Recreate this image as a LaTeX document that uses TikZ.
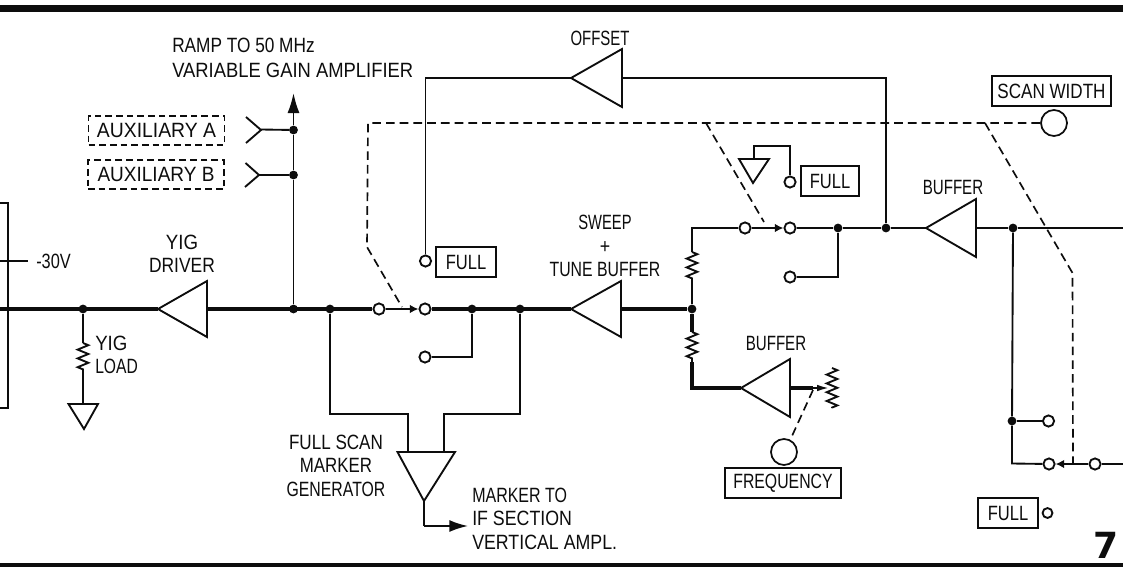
\documentclass[tikz,border=0pt]{standalone}
\usepackage{graphicx}
\usepackage{fontspec}
\setmainfont[FakeStretch=0.86]{Liberation Sans}
\newfontfamily\sevenfont{DejaVu Sans}
\usetikzlibrary{arrows.meta,decorations.pathmorphing}
\newcommand{\hs}[2]{\scalebox{#1}[1]{#2}}
\newcommand{\amplif}[5]{% name, tip x, base x, y, half height
  \coordinate (#1-tip) at (#2,#4);
  \coordinate (#1-base) at (#3,#4);
  \draw[wire,fill=white,line join=miter] (#2,#4) -- (#3,#4-#5) -- (#3,#4+#5) -- cycle;
}
\tikzset{
  wire/.style={line width=1.4pt,draw=ink},
  heavy/.style={line width=3.3pt,draw=ink},
  dashline/.style={line width=1.25pt,draw=ink,dash pattern=on 6.5pt off 3.8pt},
  resist/.style={wire,decorate,decoration={zigzag,segment length=6.6pt,amplitude=4pt}},
  term/.style={circle,draw=ink,line width=1.4pt,fill=white,inner sep=0pt,minimum size=8.4pt},
  knob/.style={circle,draw=ink,line width=1.3pt,fill=white,inner sep=0pt,minimum size=19.5pt},
  junction/.style={circle,fill=ink,inner sep=0pt,minimum size=6.6pt},
  label/.style={inner sep=0pt,text=ink,font=\fontsize{15.5}{17.6}\selectfont},
  panel/.style={draw=ink,line width=1.4pt,inner sep=0pt,text=ink,font=\fontsize{15.5}{17}\selectfont,anchor=center},
  auxbox/.style={panel,dash pattern=on 5pt off 3pt,minimum width=102pt,minimum height=21.5pt},
  gnd/.style={wire,line join=miter},
  bigtip/.style={-{Latex[length=15pt,width=9pt]}},
  midtip/.style={-{Latex[length=14pt,width=9pt]}},
  smalltip/.style={-{Latex[length=6.5pt,width=6.5pt]}}
}
\definecolor{ink}{gray}{0.05}
\begin{document}
\begin{tikzpicture}[x=0.75pt,y=-0.75pt]
\useasboundingbox (0,0) rectangle (1123,567);
\fill[white] (0,0) rectangle (1123,567);
% frame bars
\fill[ink] (0,5) rectangle (1123,12.5);
\fill[ink] (0,563) rectangle (1123,567);

% left block and -30V
\draw[wire] (0,203) -- (8,203) -- (8,408) -- (0,408);
\coordinate (minus) at (28,261);
\coordinate (minusL) at (0,261);
\draw[wire] (minusL) -- (minus);
\node[label,anchor=west] (v30) at (36,261) {\hs{.92}{-30V}};

% amplifiers
\amplif{yigdrv}{158}{207}{309}{28}
\amplif{sweep}{571}{621}{309}{28}
\amplif{offs}{571}{622}{78}{29}
\amplif{bufa}{926}{976}{228}{29}
\amplif{bufb}{741}{790}{388}{29}

% junctions
\node[junction] (jload) at (83,309) {};
\node[junction] (jramp) at (293.5,309) {};
\node[junction] (jauxa) at (293.5,130) {};
\node[junction] (jauxb) at (293.5,175) {};
\node[junction] (jm1) at (330,309) {};
\node[junction] (jm2) at (472,309) {};
\node[junction] (jm3) at (520,309) {};
\node[junction] (jsum) at (692,309) {};
\node[junction] (jt1) at (838,228) {};
\node[junction] (jt2) at (886,228) {};
\node[junction] (jout) at (1013,228) {};
\node[junction] (jlow) at (1012,421) {};

% terminals
\node[term] (s1a) at (379,309) {};
\node[term] (s1b) at (425,309) {};
\node[term] (s1c) at (425,357) {};
\node[term] (s2a) at (745,228) {};
\node[term] (s2b) at (790,228) {};
\node[term] (s2c) at (790,277) {};
\node[term] (s3c) at (1048.5,421) {};
\node[term] (s3b) at (1049,464) {};
\node[term] (s3a) at (1095,464) {};
\node[term] (foff) at (425.5,261) {};
\node[term] (fgnd) at (790,182) {};
\node[term,minimum size=7.4pt] (frt) at (1047.5,513) {};
\node[knob] (kscan) at (1054,123) {};
\node[knob] (kfreq) at (784,452) {};

% heavy main line
\coordinate (mainL) at (0,309);
\draw[heavy] (mainL) -- (yigdrv-tip);
\draw[heavy] (yigdrv-base) -- (s1a);
\draw[heavy] (s1b) -- (sweep-tip);
\draw[heavy] (sweep-base) -- (jsum);
\coordinate (r2t) at (692,332);
\coordinate (r2b) at (692,362);
\coordinate (bufcorner) at (692,388);
\draw[heavy] (jsum) -- (r2t);
\draw[heavy,line join=miter] (r2b) -- (bufcorner) -- (bufb-tip);
\coordinate (potin) at (813,388);
\draw[heavy] (bufb-base) -- (potin);

% resistors
\draw[resist] (r2t) -- (r2b);
\coordinate (r1t) at (692,252);
\coordinate (r1b) at (692,280);
\coordinate (topcorner) at (692,228);
\draw[resist] (r1t) -- (r1b);
\draw[wire] (jsum) -- (r1b);
\draw[wire] (r1t) -- (topcorner) -- (s2a);

% YIG load
\coordinate (r3t) at (83,343);
\coordinate (r3b) at (83,371);
\coordinate (g1) at (83,404);
\draw[wire] (jload) -- (r3t);
\draw[resist] (r3t) -- (r3b);
\draw[wire] (r3b) -- (g1);
\draw[gnd] (68.5,404) -- (98,404) -- (84,429) -- cycle;

% ramp output
\coordinate (ramptop) at (293.5,93);
\draw[wire] (jramp) -- (jauxb) -- (jauxa);
\draw[wire,bigtip] (jauxa) -- (ramptop);
\draw[wire] (261,129.5) -- (jauxa);
\draw[wire] (259,175) -- (jauxb);
\draw[wire] (246,117) -- (261,130) -- (246,143);
\draw[wire] (245.5,163) -- (259,175) -- (245,187);

% switch 1
\draw[wire,smalltip] (s1a) -- (s1b);
\draw[wire] (s1c) -| (jm2);
\coordinate (fm1) at (330,414);
\coordinate (fm2) at (408,414);
\coordinate (fm3) at (408,452);
\coordinate (fm4) at (520,414);
\coordinate (fm5) at (444,414);
\coordinate (fm6) at (444,452);
\draw[wire] (jm1) -- (fm1) -- (fm2) -- (fm3);
\draw[wire] (jm3) -- (fm4) -- (fm5) -- (fm6);
\draw[gnd] (397.5,452) -- (455,452) -- (424,501) -- cycle;
\coordinate (mgA) at (424,501);
\coordinate (mgB) at (424,526);
\coordinate (mgC) at (468,526);
\draw[wire] (mgA) -- (mgB);
\draw[wire,midtip] (mgB) -- (mgC);

% offset loop
\coordinate (offL) at (425.5,78);
\coordinate (offR) at (886,78);
\draw[wire] (offs-tip) -- (offL) -- (foff);
\draw[wire] (offs-base) -- (offR) -- (jt2);

% switch 2
\draw[wire,smalltip] (s2a) -- (s2b);
\draw[wire] (s2b) -- (jt1) -- (jt2) -- (bufa-tip);
\draw[wire] (s2c) -| (jt1);

% ground at FULL
\coordinate (gu1) at (754,158);
\coordinate (gu2) at (754,146);
\coordinate (gu3) at (790,146);
\draw[wire] (gu1) -- (gu2) -- (gu3) -- (fgnd);
\draw[gnd] (739,159) -- (769,159) -- (753,183) -- cycle;

% output and switch 3
\coordinate (outR) at (1123,228);
\coordinate (outC) at (1012,463.5);
\coordinate (inR) at (1123,464);
\draw[wire] (bufa-base) -- (jout) -- (outR);
\draw[wire] (jout) -- (jlow) -- (outC) -- (s3b);
\draw[wire] (jlow) -- (s3c);
\draw[wire,smalltip] (s3a) -- (s3b);
\draw[wire] (s3a) -- (inR);

% pot at buffer output
\coordinate (pott) at (832,368);
\coordinate (potb) at (832,408);
\coordinate (pota) at (829,388);
\draw[wire,-{Latex[length=9pt,width=5pt]}] (potin) -- (pota);
\draw[resist] (pott) -- (potb);

% ganged control lines
\coordinate (d0) at (368,123);
\coordinate (d1) at (367,247);
\coordinate (d2) at (402,307);
\coordinate (d3) at (706,123);
\coordinate (d4) at (764,222);
\coordinate (d5) at (985,123);
\coordinate (d6) at (1072.5,273);
\coordinate (d7) at (1073,463);
\coordinate (d8) at (813,390);
\coordinate (d9) at (792,436);
\draw[dashline] (kscan) -- (d0) -- (d1) -- (d2);
\draw[dashline] (d3) -- (d4);
\draw[dashline] (d5) -- (d6) -- (d7);
\draw[dashline] (d8) -- (d9);

% panel labels
\node[auxbox] (auxa) at (156.5,130.5) {\hs{1.09}{AUXILIARY A}};
\node[auxbox] (auxb) at (156,174.5) {\hs{1.07}{AUXILIARY B}};
\node[panel,minimum width=44.5pt,minimum height=22pt] (f1) at (466,262) {\hs{.93}{FULL}};
\node[panel,minimum width=43.5pt,minimum height=22pt] (f2) at (830,181) {\hs{.93}{FULL}};
\node[panel,minimum width=44.5pt,minimum height=22pt] (f3) at (1008,513) {\hs{.93}{FULL}};
\node[panel,minimum width=89pt,minimum height=22pt] (fscan) at (1051.5,91) {\hs{.96}{SCAN WIDTH}};
\node[panel,minimum width=87pt,minimum height=22pt] (ffreq) at (783,483) {\hs{.89}{FREQUENCY}};

% texts
\node[label,anchor=west,align=left] (tramp) at (172,57.5) {\hs{.97}{RAMP TO 50 MHz}\\[1.2pt]\hs{1.035}{VARIABLE GAIN AMPLIFIER}};
\node[label,align=center] (tyig) at (182,254) {\hs{1.05}{YIG}\\\hs{.98}{DRIVER}};
\node[label,anchor=west,align=left] (tload) at (95,355) {\hs{1.05}{YIG}\\\hs{.88}{LOAD}};
\node[label,align=center] (tfull) at (336,465.5) {\hs{.96}{FULL SCAN}\\\hs{.95}{MARKER}\\\hs{.89}{GENERATOR}};
\node[label,anchor=west,align=left] (tmark) at (472,518.5) {\hs{.9}{MARKER TO}\\IF SECTION\\VERTICAL AMPL.};
\node[label] (toff) at (600,38) {\hs{.84}{OFFSET}};
\node[label,align=center] (tsw) at (605,246) {\hs{.83}{SWEEP}\\+\\\hs{.89}{TUNE BUFFER}};
\node[label] (tbuf1) at (953,187) {\hs{.85}{BUFFER}};
\node[label] (tbuf2) at (776,343) {\hs{.85}{BUFFER}};
\node[inner sep=0pt,text=ink,font=\sevenfont\fontsize{27}{30}\selectfont\bfseries] (seven) at (1106,545) {7};
\end{tikzpicture}
\end{document}
